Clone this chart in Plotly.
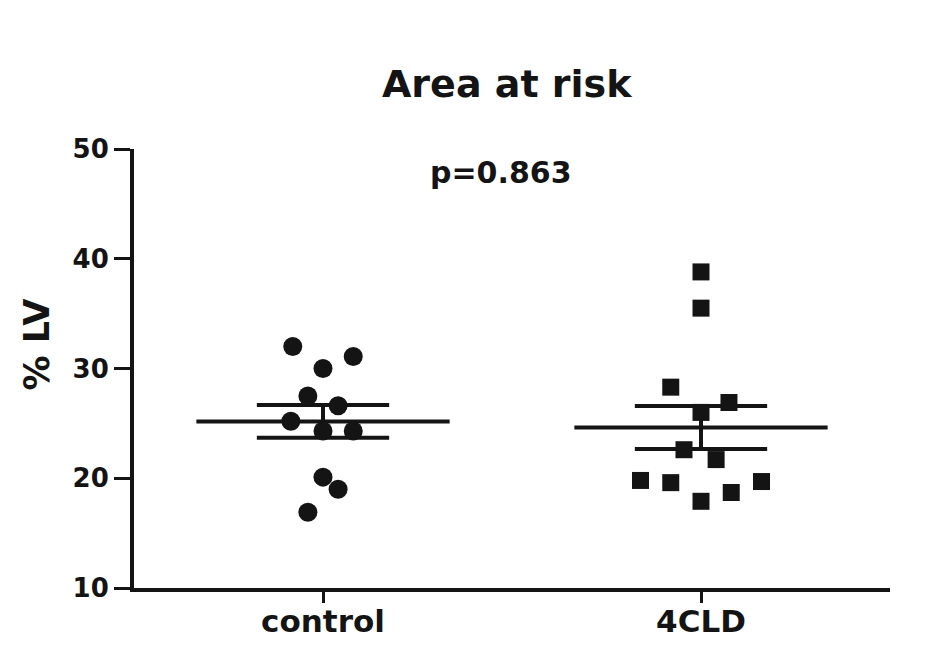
import numpy as np
import plotly.graph_objects as go

# ---- data ----
categories = ["control", "4CLD"]
control_values = [32.0, 31.1, 30.0, 27.5, 26.6, 25.2, 24.3, 24.3, 20.1, 19.0, 16.9]
control_jitter = [-0.08, 0.08, 0.0, -0.04, 0.04, -0.085, 0.0, 0.08, 0.0, 0.04, -0.04]
cld_values = [38.8, 35.5, 28.3, 26.9, 26.0, 22.6, 21.7, 19.8, 19.6, 19.7, 18.7, 17.9]
cld_jitter = [0.0, 0.0, -0.08, 0.074, 0.0, -0.045, 0.04, -0.16, -0.08, 0.16, 0.08, 0.0]
y_ticks = [10, 20, 30, 40, 50]
title_text = "Area at risk"
p_text = "p=0.863"
y_label = "% LV"

INK = "#141414"
FONT = "DejaVu Sans"

groups = [
    (0, control_values, control_jitter, "circle", 19),
    (1, cld_values, cld_jitter, "square", 17),
]

fig = go.Figure()
MEAN_HW = 0.335
SEM_HW = 0.175
for xc, vals, jit, sym, size in groups:
    v = np.array(vals)
    m = v.mean()
    sem = v.std(ddof=1) / np.sqrt(len(v))
    fig.add_trace(go.Scatter(x=[xc - MEAN_HW, xc + MEAN_HW], y=[m, m], mode="lines",
                             line=dict(color=INK, width=4), showlegend=False, hoverinfo="skip"))
    for yy in (m + sem, m - sem):
        fig.add_trace(go.Scatter(x=[xc - SEM_HW, xc + SEM_HW], y=[yy, yy], mode="lines",
                                 line=dict(color=INK, width=4), showlegend=False, hoverinfo="skip"))
    fig.add_trace(go.Scatter(x=[xc, xc], y=[m - sem, m + sem], mode="lines",
                             line=dict(color=INK, width=4), showlegend=False, hoverinfo="skip"))
    fig.add_trace(go.Scatter(x=[xc + j for j in jit], y=vals, mode="markers",
                             marker=dict(symbol=sym, size=size, color=INK, line=dict(width=0)),
                             showlegend=False))

fig.update_layout(
    width=944, height=653,
    margin=dict(l=134, r=54, t=149, b=65, autoexpand=False),
    paper_bgcolor="white", plot_bgcolor="white",
    font=dict(family=FONT, color=INK),
    title=dict(text="<b>%s</b>" % title_text, x=0.493, xref="paper", y=1 - 84 / 653,
               yref="container", xanchor="center", yanchor="middle", automargin=False,
               font=dict(size=38, family=FONT, color=INK)),
)
fig.update_xaxes(
    range=[-0.5, 1.5], tickvals=[0, 1], ticktext=["<b>%s</b>" % c for c in categories],
    showline=True, linecolor=INK, linewidth=4, ticks="outside", ticklen=11, tickwidth=3,
    tickcolor=INK, showgrid=False, zeroline=False, automargin=False, ticklabelstandoff=-8,
    tickfont=dict(size=31, family=FONT, color=INK),
)
fig.update_yaxes(
    range=[10, 50], tickvals=y_ticks, ticktext=["<b>%d</b>" % t for t in y_ticks],
    showline=True, linecolor=INK, linewidth=4, ticks="outside", ticklen=16, tickwidth=3,
    tickcolor=INK, showgrid=False, zeroline=False, automargin=False,
    tickfont=dict(size=26, family=FONT, color=INK),
)
fig.add_annotation(text="<b>%s</b>" % p_text, x=0.47, y=47.9, xref="x", yref="y",
                   showarrow=False, font=dict(size=30, family=FONT, color=INK),
                   xanchor="center", yanchor="middle")
fig.add_annotation(text="<b>%s</b>" % y_label, x=-0.128, y=0.555, xref="paper", yref="paper",
                   textangle=-90, showarrow=False, font=dict(size=35, family=FONT, color=INK),
                   xanchor="center", yanchor="middle")

fig.write_html("out.html", post_script="document.body.style.margin='0';",
               config={"displayModeBar": False})
